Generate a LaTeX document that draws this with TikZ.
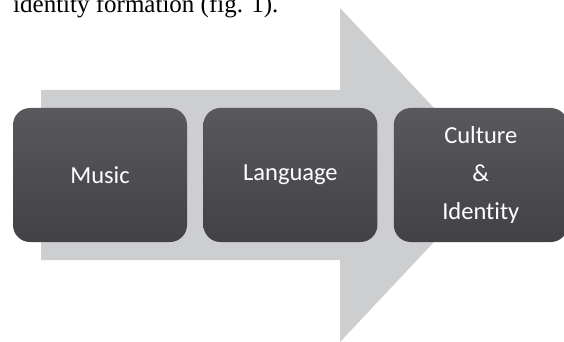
\documentclass[tikz,border=0pt]{standalone}
\usepackage{fontspec}
\setmainfont{Liberation Serif}
\newfontfamily\boxfont[Ligatures = NoCommon]{Carlito}
\usetikzlibrary{positioning}
\definecolor{arrowgray}{HTML}{CDCED0}
\definecolor{boxtop}{HTML}{59585D}
\definecolor{boxbottom}{HTML}{434146}
\tikzset{stage/.style = {rectangle, rounded corners = 17, minimum width = 174,
  minimum height = 134, inner sep = 0, top color = boxtop,
  bottom color = boxbottom, text = white, align = center,
  font = \boxfont\fontsize{24.5}{38}\selectfont}}

\begin{document}
\begin{tikzpicture}[x = 1pt, y = -1pt, node distance = 16]
      \useasboundingbox (0, 0) rectangle (564, 342);
      \begin{scope}
        \clip (0, 0) rectangle (564, 342);
        % caption line, cut at the top
        \node [anchor = base west, inner sep = 0,
          font = \fontsize{25}{30}\selectfont] (caption) at (13, 13)
          {identity formation (fig. 1).};
        % big arrow behind
        \fill [arrowgray] (41, 90) -- (340, 90) -- (340, 8) -- (497, 175) --
        (340, 342) -- (340, 260) -- (41, 260) -- cycle;
      \end{scope}
      % stages
      \node [stage] (music) at (100, 175) {Music};
      \node [stage, right = of music] (language) {Language};
      \node [stage, right = of language] (culture) {Culture\\\&\\Identity};
    \end{tikzpicture}
\end{document}
